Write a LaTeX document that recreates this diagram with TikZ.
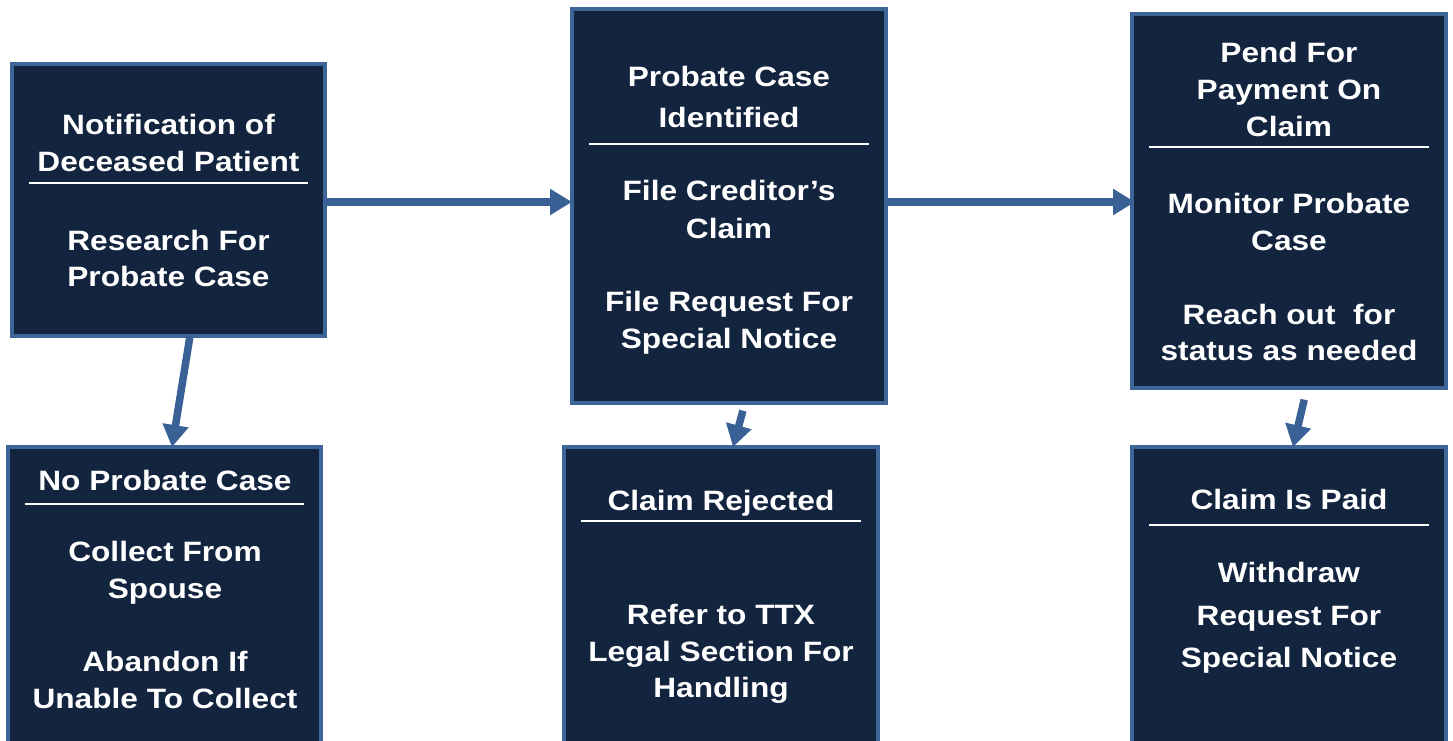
\documentclass[tikz,border=0pt]{standalone}
\usepackage{fontspec}
\setmainfont{Liberation Sans}[FakeStretch=1.13]
\usetikzlibrary{arrows.meta}
\definecolor{navy}{HTML}{13243F}
\definecolor{edgec}{HTML}{3D6598}
\definecolor{arrowc}{HTML}{3A6196}
\begin{document}
\begin{tikzpicture}[x=1pt,y=-1pt,
  box/.style={draw=edgec, fill=navy, line width=4pt, rectangle, inner sep=0pt, outer sep=0pt},
  txt/.style={text=white, font=\fontsize{28}{36}\selectfont\bfseries, anchor=base, inner sep=0pt},
  sepline/.style={draw=white, line width=2pt},
  arr/.style={draw=arrowc, line width=7.5pt, -{Triangle[length=22pt,width=25pt]}}]
\useasboundingbox (0,0) rectangle (1453,741);
\clip (0,0) rectangle (1453,741);
% boxes
\node[box, minimum width=313pt, minimum height=272pt] (A) at (168.5,200) {};
\node[box, minimum width=314pt, minimum height=394pt] (B) at (729,206) {};
\node[box, minimum width=314pt, minimum height=374pt] (C) at (1289,201) {};
\node[box, minimum width=313pt, minimum height=313pt] (D) at (164.5,603.5) {};
\node[box, minimum width=314pt, minimum height=313pt] (E) at (721,603.5) {};
\node[box, minimum width=314pt, minimum height=313pt] (F) at (1289,603.5) {};
% separators
\draw[sepline] ([xshift=17pt]A.west |- 0,183) -- ([xshift=-17pt]A.east |- 0,183);
\draw[sepline] ([xshift=17pt]B.west |- 0,144) -- ([xshift=-17pt]B.east |- 0,144);
\draw[sepline] ([xshift=17pt]C.west |- 0,147) -- ([xshift=-17pt]C.east |- 0,147);
\draw[sepline] ([xshift=17pt]D.west |- 0,504) -- ([xshift=-17pt]D.east |- 0,504);
\draw[sepline] ([xshift=17pt]E.west |- 0,521) -- ([xshift=-17pt]E.east |- 0,521);
\draw[sepline] ([xshift=17pt]F.west |- 0,525) -- ([xshift=-17pt]F.east |- 0,525);
% texts box A
\node[txt] (a1) at (168.5,135) {Notification of};
\node[txt] (a2) at (168.5,171.5) {Deceased Patient};
\node[txt] (a3) at (168.5,250) {Research For};
\node[txt] (a4) at (168.5,286.5) {Probate Case};
% box B
\node[txt] (b1) at (729,87) {Probate Case};
\node[txt] (b2) at (729,128) {Identified};
\node[txt] (b3) at (729,200.5) {File Creditor’s};
\node[txt] (b4) at (729,238) {Claim};
\node[txt] (b5) at (729,311.5) {File Request For};
\node[txt] (b6) at (729,348) {Special Notice};
% box C
\node[txt] (c1) at (1289,63) {Pend For};
\node[txt] (c2) at (1289,100) {Payment On};
\node[txt] (c3) at (1289,136.5) {Claim};
\node[txt] (c4) at (1289,213) {Monitor Probate};
\node[txt] (c5) at (1289,250) {Case};
\node[txt] (c6) at (1289,324) {Reach out~ for};
\node[txt] (c7) at (1289,360.5) {status as needed};
% box D
\node[txt] (d1) at (165,490) {No Probate Case};
\node[txt] (d2) at (165,561.5) {Collect From};
\node[txt] (d3) at (165,598) {Spouse};
\node[txt] (d4) at (165,671.5) {Abandon If};
\node[txt] (d5) at (165,708) {Unable To Collect};
% box E
\node[txt] (e1) at (721,510) {Claim Rejected};
\node[txt] (e2) at (721,624) {Refer to TTX};
\node[txt] (e3) at (721,661.5) {Legal Section For};
\node[txt] (e4) at (721,697.5) {Handling};
% box F
\node[txt] (f1) at (1289,509) {Claim Is Paid};
\node[txt] (f2) at (1289,582.5) {Withdraw};
\node[txt] (f3) at (1289,625) {Request For};
\node[txt] (f4) at (1289,667.5) {Special Notice};
% arrows
\draw[arr] (A.east |- 0,202) -- (B.west |- 0,202);
\draw[arr] (B.east |- 0,202) -- ([xshift=3pt]C.west |- 0,202);
\draw[arr] (A.south -| 190,0) -- (D.north -| 172,0);
\draw[arr, shorten <=8pt] (B.south -| 745,0) -- (E.north -| 733,0);
\draw[arr, shorten <=12pt] (C.south -| 1307,0) -- (F.north -| 1293,0);
\end{tikzpicture}
\end{document}
